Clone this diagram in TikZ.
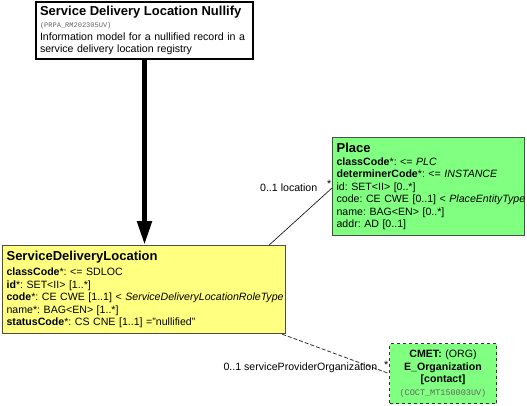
\documentclass[tikz,border=0pt]{standalone}
\usepackage{fontspec}
\setmainfont{Liberation Sans}
\setmonofont{Liberation Mono}
\usepackage{tikz}
\usetikzlibrary{arrows.meta,positioning,calc}
\definecolor{rimyellow}{RGB}{255,255,128}
\definecolor{rimgreen}{RGB}{128,255,128}
\definecolor{idgray}{RGB}{100,100,100}
\newcommand{\clstitle}{\fontsize{13}{15}\selectfont\bfseries}
\newcommand{\artid}[2]{{\fontsize{#1}{#1}\selectfont\ttfamily\color{idgray}(#2)}}
\newcommand{\clsattr}[1]{\mbox{#1}\par}
\frenchspacing

\begin{document}
\begin{tikzpicture}[x=1pt,y=-1pt,>=Stealth,
  clsbox/.style={draw=black!70,line width=1.2pt,anchor=north west,inner xsep=4pt,inner ysep=0pt,
    align=left,font=\fontsize{10.6}{12.5}\selectfont},
  cmetbox/.style={draw=black!80,dashed,line width=1pt,fill=rimgreen,anchor=north west,inner sep=0pt,
    align=center,font=\fontsize{10.6}{12.4}\selectfont},
  assoc/.style={font=\fontsize{10.6}{12}\selectfont,inner sep=0.5pt}]
  \useasboundingbox (0,0) rectangle (527,405);
  % entry point
  \node[clsbox,draw=black,line width=2pt,fill=white,minimum width=217pt,minimum height=57pt,
    text width=209pt] (nullify) at (35,1) {%
    {\clstitle Service Delivery Location Nullify\par}
    \artid{7}{PRPA\_RM202305UV}\par
    \clsattr{Information model for a nullified record in a}
    \clsattr{service delivery location registry}};
  % focal class
  \node[clsbox,fill=rimyellow,minimum width=283pt,minimum height=88pt,text width=275pt] (sdl) at (2,245) {%
    {\clstitle ServiceDeliveryLocation\par}\vspace{3pt}
    \clsattr{\textbf{classCode}*: <= SDLOC}
    \clsattr{\textbf{id}*: SET<II> [1..*]}
    \clsattr{\textbf{code}*: CE CWE [1..1] < \textit{ServiceDeliveryLocationRoleType}}
    \clsattr{name*: BAG<EN> [1..*]}
    \clsattr{\textbf{statusCode}*: CS CNE [1..1] ="nullified"}};
  \node[clsbox,fill=rimgreen,minimum width=192pt,minimum height=98pt,text width=184pt] (place) at (332,137) {%
    {\clstitle Place\par}
    \clsattr{\textbf{classCode}*: <= \textit{PLC}}
    \clsattr{\textbf{determinerCode}*: <= \textit{INSTANCE}}
    \clsattr{id: SET<II> [0..*]}
    \clsattr{code: CE CWE [0..1] < \textit{PlaceEntityType}}
    \clsattr{name: BAG<EN> [0..*]}
    \clsattr{addr: AD [0..1]}};
  \node[cmetbox,minimum width=107pt,minimum height=60pt,text width=107pt] (cmet) at (389,343) {%
    \textbf{CMET:} (ORG)\par
    \textbf{E\_Organization}\par
    \textbf{[contact]}\par
    \artid{8.5}{COCT\_MT150003UV}};
  % entry arrow
  \draw[line width=5pt,-{Triangle[width=14pt,length=24pt]}] (nullify.south) -- (nullify.south |- sdl.north);
  % associations
  \coordinate (locfoot) at ($(sdl.north east)+(-17,0)$);
  \coordinate (lochead) at ($(place.north west)+(0,51)$);
  \draw[line width=0.6pt] (locfoot) -- (lochead);
  \node[assoc,anchor=east] (loclbl) at (318,188) {0..1 location};
  \node[assoc,anchor=south east] (locmult) at (lochead) {*};
  \coordinate (orgfoot) at ($(sdl.south east)+(-4,0)$);
  \draw[line width=0.8pt,black!80,dash pattern=on 4pt off 2pt] (orgfoot) -- (cmet.west);
  \node[assoc,anchor=east] (orglbl) at (378,368) {0..1 serviceProviderOrganization};
  \node[assoc,anchor=south east] (orgmult) at ($(cmet.west)+(0,-4)$) {*};
\end{tikzpicture}
\end{document}
